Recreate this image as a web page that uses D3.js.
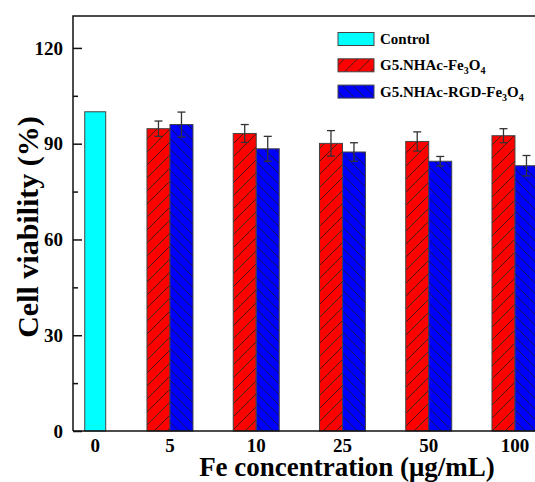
<!DOCTYPE html>
<html>
<head>
<meta charset="utf-8">
<script src="https://cdn.jsdelivr.net/npm/d3@7"></script>
<style>
  body { margin:0; background:#fff; }
  svg { display:block; }
  text { font-family:"Liberation Serif","Times New Roman",serif; font-weight:bold; fill:#000; }
</style>
</head>
<body>
<svg id="chart" width="535" height="482"></svg>
<script>
// data
var concentrations = ["0","5","10","25","50","100"];
var controlValue = 100;
var feValues   = [null, 94.7, 93.2, 90.1, 90.7, 92.5];
var feErrors   = [null, 2.4, 2.8, 4.0, 3.0, 2.2];
var rgdValues  = [null, 96.0, 88.4, 87.4, 84.5, 83.1];
var rgdErrors  = [null, 3.9, 3.9, 2.9, 1.5, 3.2];
var yMajorTicks = [0, 30, 60, 90, 120];
var yMinorTicks = [15, 45, 75, 105];

(function(){

	var svg = d3.select("#chart");

	var left = 73, top = 16, bottom = 431, right = 560;
	var nBarW = 23;

	// x : one band per concentration
	// ------------------------------
	var x = d3.scaleBand()
		.domain(concentrations)
		.range([40.6, 40.6 + 86.25*concentrations.length])
		.padding(0);

	var y = d3.scaleLinear()
		.domain([0, 130])
		.range([bottom, top]);

	function xc(c){ return x(c) + x.bandwidth()/2; }

	// hatch patterns
	// --------------
	var defs = svg.append("defs");

	function hatch(id, color, dir, s){
		var p = defs.append("pattern")
			.attr("id", id)
			.attr("patternUnits", "userSpaceOnUse")
			.attr("width", s)
			.attr("height", s);
		p.append("rect")
			.attr("width", s).attr("height", s)
			.attr("fill", color);
		var d = dir > 0
			? "M-3,3 L3,-3 M0," + s + " L" + s + ",0 M" + (s-3) + "," + (s+3) + " L" + (s+3) + "," + (s-3)
			: "M-3," + (s-3) + " L3," + (s+3) + " M0,0 L" + s + "," + s + " M" + (s-3) + ",-3 L" + (s+3) + ",3";
		p.append("path")
			.attr("d", d)
			.attr("stroke", "#1a1a1a")
			.attr("stroke-width", 0.8);
	}
	hatch("hatchRed", "#ff0000", 1, 13);
	hatch("hatchBlue", "#0000ff", -1, 10.5);

	// frame
	// -----
	svg.append("path")
		.attr("d", "M" + left + "," + bottom + " L" + left + "," + top + " L" + right + "," + top)
		.attr("fill", "none")
		.attr("stroke", "#111")
		.attr("stroke-width", 1.5);

	// control bar
	// -----------
	svg.append("rect")
		.attr("x", xc("0") + 1)
		.attr("y", y(controlValue))
		.attr("width", nBarW - 2)
		.attr("height", y(0) - y(controlValue))
		.attr("style", "fill:#00ffff;stroke:#444;stroke-width:1;");

	// grouped bars
	// ------------
	var groups = [];
	for (var i = 1; i < concentrations.length; i++){
		groups.push({c:concentrations[i], v:feValues[i], e:feErrors[i], off:-nBarW, fill:"url(#hatchRed)"});
		groups.push({c:concentrations[i], v:rgdValues[i], e:rgdErrors[i], off:0, fill:"url(#hatchBlue)"});
	}

	svg.selectAll("rect.bar")
		.data(groups)
		.enter().append("rect")
		.attr("class", "bar")
		.attr("x", function(d){ return xc(d.c) + d.off; })
		.attr("y", function(d){ return y(d.v); })
		.attr("width", nBarW)
		.attr("height", function(d){ return y(0) - y(d.v); })
		.attr("fill", function(d){ return d.fill; })
		.attr("stroke", "#444")
		.attr("stroke-width", 1);

	// error bars
	// ----------
	var err = svg.selectAll("g.err")
		.data(groups)
		.enter().append("g")
		.attr("class", "err")
		.attr("stroke", "#333")
		.attr("stroke-width", 1.3);

	err.append("line")
		.attr("x1", function(d){ return xc(d.c) + d.off + nBarW/2; })
		.attr("x2", function(d){ return xc(d.c) + d.off + nBarW/2; })
		.attr("y1", function(d){ return y(d.v + d.e); })
		.attr("y2", function(d){ return y(d.v - d.e); });
	err.selectAll("line.cap")
		.data(function(d){ return [{d:d, v:d.v + d.e}, {d:d, v:d.v - d.e}]; })
		.enter().append("line")
		.attr("class", "cap")
		.attr("x1", function(o){ return xc(o.d.c) + o.d.off + nBarW/2 - 4; })
		.attr("x2", function(o){ return xc(o.d.c) + o.d.off + nBarW/2 + 4; })
		.attr("y1", function(o){ return y(o.v); })
		.attr("y2", function(o){ return y(o.v); });

	// y axis
	// ------
	var gy = svg.append("g")
		.attr("transform", "translate(" + left + ",0)")
		.call(d3.axisLeft(y).tickValues(yMajorTicks).tickSize(-9).tickPadding(10).tickFormat(d3.format("d")));
	gy.select(".domain").remove();
	gy.selectAll(".tick line").attr("stroke", "#111").attr("stroke-width", 1.5);
	gy.selectAll(".tick text")
		.attr("style", "font-family:'Liberation Serif','Times New Roman',serif;font-weight:bold;font-size:19px;fill:#000;");

	var gym = svg.append("g")
		.attr("transform", "translate(" + left + ",0)")
		.call(d3.axisLeft(y).tickValues(yMinorTicks).tickSize(-5).tickFormat(""));
	gym.select(".domain").remove();
	gym.selectAll(".tick line").attr("stroke", "#111").attr("stroke-width", 1.5);

	// x axis
	// ------
	var gx = svg.append("g")
		.attr("transform", "translate(0," + bottom + ")")
		.call(d3.axisBottom(x).tickSize(0).tickPadding(8));
	gx.select(".domain").attr("d", "M" + left + ",0 H" + right).attr("stroke", "#111").attr("stroke-width", 1.5);
	gx.selectAll(".tick text")
		.attr("style", "font-family:'Liberation Serif','Times New Roman',serif;font-weight:bold;font-size:19px;fill:#000;")
		.attr("x", function(d){ return d === "0" ? nBarW/2 : 0; });

	// axis titles
	// -----------
	svg.append("text")
		.attr("transform", "translate(38,227) rotate(-90)")
		.attr("text-anchor", "middle")
		.attr("style", "font-size:30px;")
		.text("Cell viability (%)");

	svg.append("text")
		.attr("x", 347)
		.attr("y", 476)
		.attr("text-anchor", "middle")
		.attr("style", "font-size:27px;")
		.text("Fe concentration (\u03bcg/mL)");

	// legend
	// ------
	var legend = [
		{fill:"#00ffff", parts:[["Control",0]]},
		{fill:"url(#hatchRed)", parts:[["G5.NHAc-Fe",0],["3",1],["O",0],["4",1]]},
		{fill:"url(#hatchBlue)", parts:[["G5.NHAc-RGD-Fe",0],["3",1],["O",0],["4",1]]}
	];
	var lg = svg.selectAll("g.legend")
		.data(legend)
		.enter().append("g")
		.attr("class", "legend")
		.attr("transform", function(d, i){ return "translate(338," + (39 + i*26.3) + ")"; });

	lg.append("rect")
		.attr("x", 0).attr("y", -6.5)
		.attr("width", 36).attr("height", 13)
		.attr("fill", function(d){ return d.fill; })
		.attr("stroke", "#444").attr("stroke-width", 1);

	var lt = lg.append("text")
		.attr("x", 42)
		.attr("y", 5)
		.attr("style", "font-size:15px;");
	lt.selectAll("tspan")
		.data(function(d){ return d.parts; })
		.enter().append("tspan")
		.attr("style", function(p){ return p[1] ? "font-size:10px;" : "font-size:15px;"; })
		.attr("dy", function(p, i, n){
			if (p[1]) return 4;
			return (i > 0 && n[i-1].__data__[1]) ? -4 : 0;
		})
		.text(function(p){ return p[0]; });

})();
</script>
</body>
</html>
